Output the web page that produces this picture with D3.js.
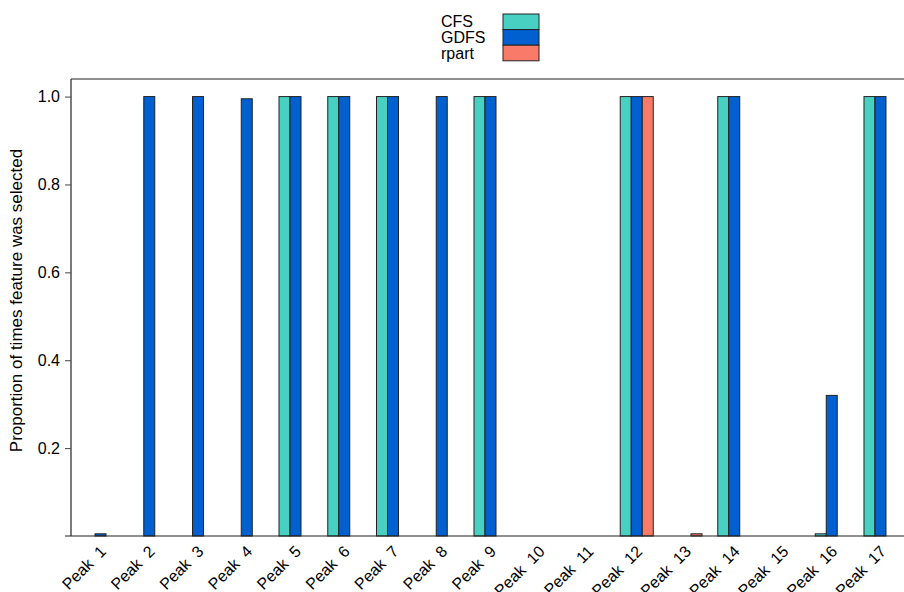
<!DOCTYPE html>
<html>
<head>
<meta charset="utf-8">
<script src="https://cdn.jsdelivr.net/npm/d3@7"></script>
<style>
  html, body { margin: 0; padding: 0; background: #fff; }
  svg { display: block; font-family: "Liberation Sans", Arial, Helvetica, sans-serif; }
</style>
</head>
<body>
<svg id="chart" width="904" height="592"></svg>
<script>
// Features (peaks) and the proportion of runs in which each method picked them
const peaks = ["Peak  1", "Peak  2", "Peak  3", "Peak  4", "Peak  5", "Peak  6", "Peak  7", "Peak  8", "Peak  9",
               "Peak  10", "Peak  11", "Peak  12", "Peak  13", "Peak  14", "Peak  15", "Peak  16", "Peak  17"];
const methods = ["CFS", "GDFS", "rpart"];
const cfsValues   = [0, 0, 0, 0, 1, 1, 1, 0, 1, 0, 0, 1, 0, 1, 0, 0.005, 1];
const gdfsValues  = [0.005, 1, 1, 0.995, 1, 1, 1, 1, 1, 0, 0, 1, 0, 1, 0, 0.32, 1];
const rpartValues = [0, 0, 0, 0, 0, 0, 0, 0, 0, 0, 0, 1, 0.005, 0, 0, 0, 0];
const yTicks = [0.2, 0.4, 0.6, 0.8, 1.0];
const colors = ["#48d1c3", "#0060cf", "#fa7a6a"];

const seriesValues = [cfsValues, gdfsValues, rpartValues];
const rows = peaks.map((p, i) => ({ peak: p, values: methods.map((m, j) => ({ method: m, value: seriesValues[j][i] })) }));

const svg = d3.select("#chart");
const plotLeft = 71, plotTop = 79, plotBottom = 536, plotRight = 910;

const x0 = d3.scaleBand().domain(peaks).range([plotLeft, plotRight]).paddingInner(0.323).paddingOuter(0.267);
const x1 = d3.scaleBand().domain(methods).range([0, x0.bandwidth()]);
const y = d3.scaleLinear().domain([0, 1.04]).range([plotBottom, plotTop]);
const color = d3.scaleOrdinal().domain(methods).range(colors);

// bars
const groups = svg.append("g").selectAll("g").data(rows).join("g")
  .attr("transform", d => `translate(${x0(d.peak)},0)`);
groups.selectAll("rect").data(d => d.values).join("rect")
  .attr("x", d => x1(d.method))
  .attr("y", d => y(d.value))
  .attr("width", x1.bandwidth())
  .attr("height", d => y(0) - y(d.value))
  .attr("fill", d => color(d.method))
  .attr("stroke", "#222")
  .attr("stroke-width", 1);

// panel frame: top and bottom edges plus the left axis
const frame = svg.append("g").attr("stroke", "#222").attr("stroke-width", 1.2).attr("fill", "none");
frame.append("line").attr("x1", plotLeft).attr("x2", 904).attr("y1", plotTop).attr("y2", plotTop);
frame.append("line").attr("x1", 65).attr("x2", 904).attr("y1", plotBottom).attr("y2", plotBottom);

const yAxis = d3.axisLeft(y).tickValues(yTicks).tickFormat(d3.format(".1f")).tickSize(6).tickPadding(5);
const ya = svg.append("g").attr("transform", `translate(${plotLeft},0)`).call(yAxis);
ya.select(".domain").attr("d", `M0,${plotTop}V${plotBottom}`).attr("stroke", "#222").attr("stroke-width", 1.2);
ya.selectAll(".tick line").attr("stroke", "#444");
ya.selectAll(".tick text").attr("font-size", 16).attr("fill", "#000").attr("font-family", "Liberation Sans, Arial, sans-serif");

// category labels, rotated
svg.append("g").selectAll("text").data(peaks).join("text")
  .attr("transform", d => `translate(${x0(d) + x0.bandwidth() / 2 - 2},${plotBottom + 8}) rotate(-45)`)
  .attr("text-anchor", "end")
  .attr("dy", "0.75em")
  .attr("font-size", 16)
  .text(d => d.replace(/ /g, "\u00a0"));

// y axis title
svg.append("text")
  .attr("transform", `translate(22,${(plotTop + plotBottom) / 2 - 7}) rotate(-90)`)
  .attr("text-anchor", "middle")
  .attr("font-size", 17)
  .text("Proportion of times feature was selected");

// legend
const legend = svg.append("g");
const lgX = 503, lgY = 14, lgW = 36, lgH = 15.6;
methods.forEach((m, i) => {
  legend.append("rect")
    .attr("x", lgX).attr("y", lgY + i * lgH)
    .attr("width", lgW).attr("height", lgH)
    .attr("fill", color(m)).attr("stroke", "#222").attr("stroke-width", 1);
  legend.append("text")
    .attr("x", 441).attr("y", lgY + i * lgH + lgH / 2)
    .attr("dy", "0.35em")
    .attr("font-size", 16)
    .text(m);
});
</script>
</body>
</html>
